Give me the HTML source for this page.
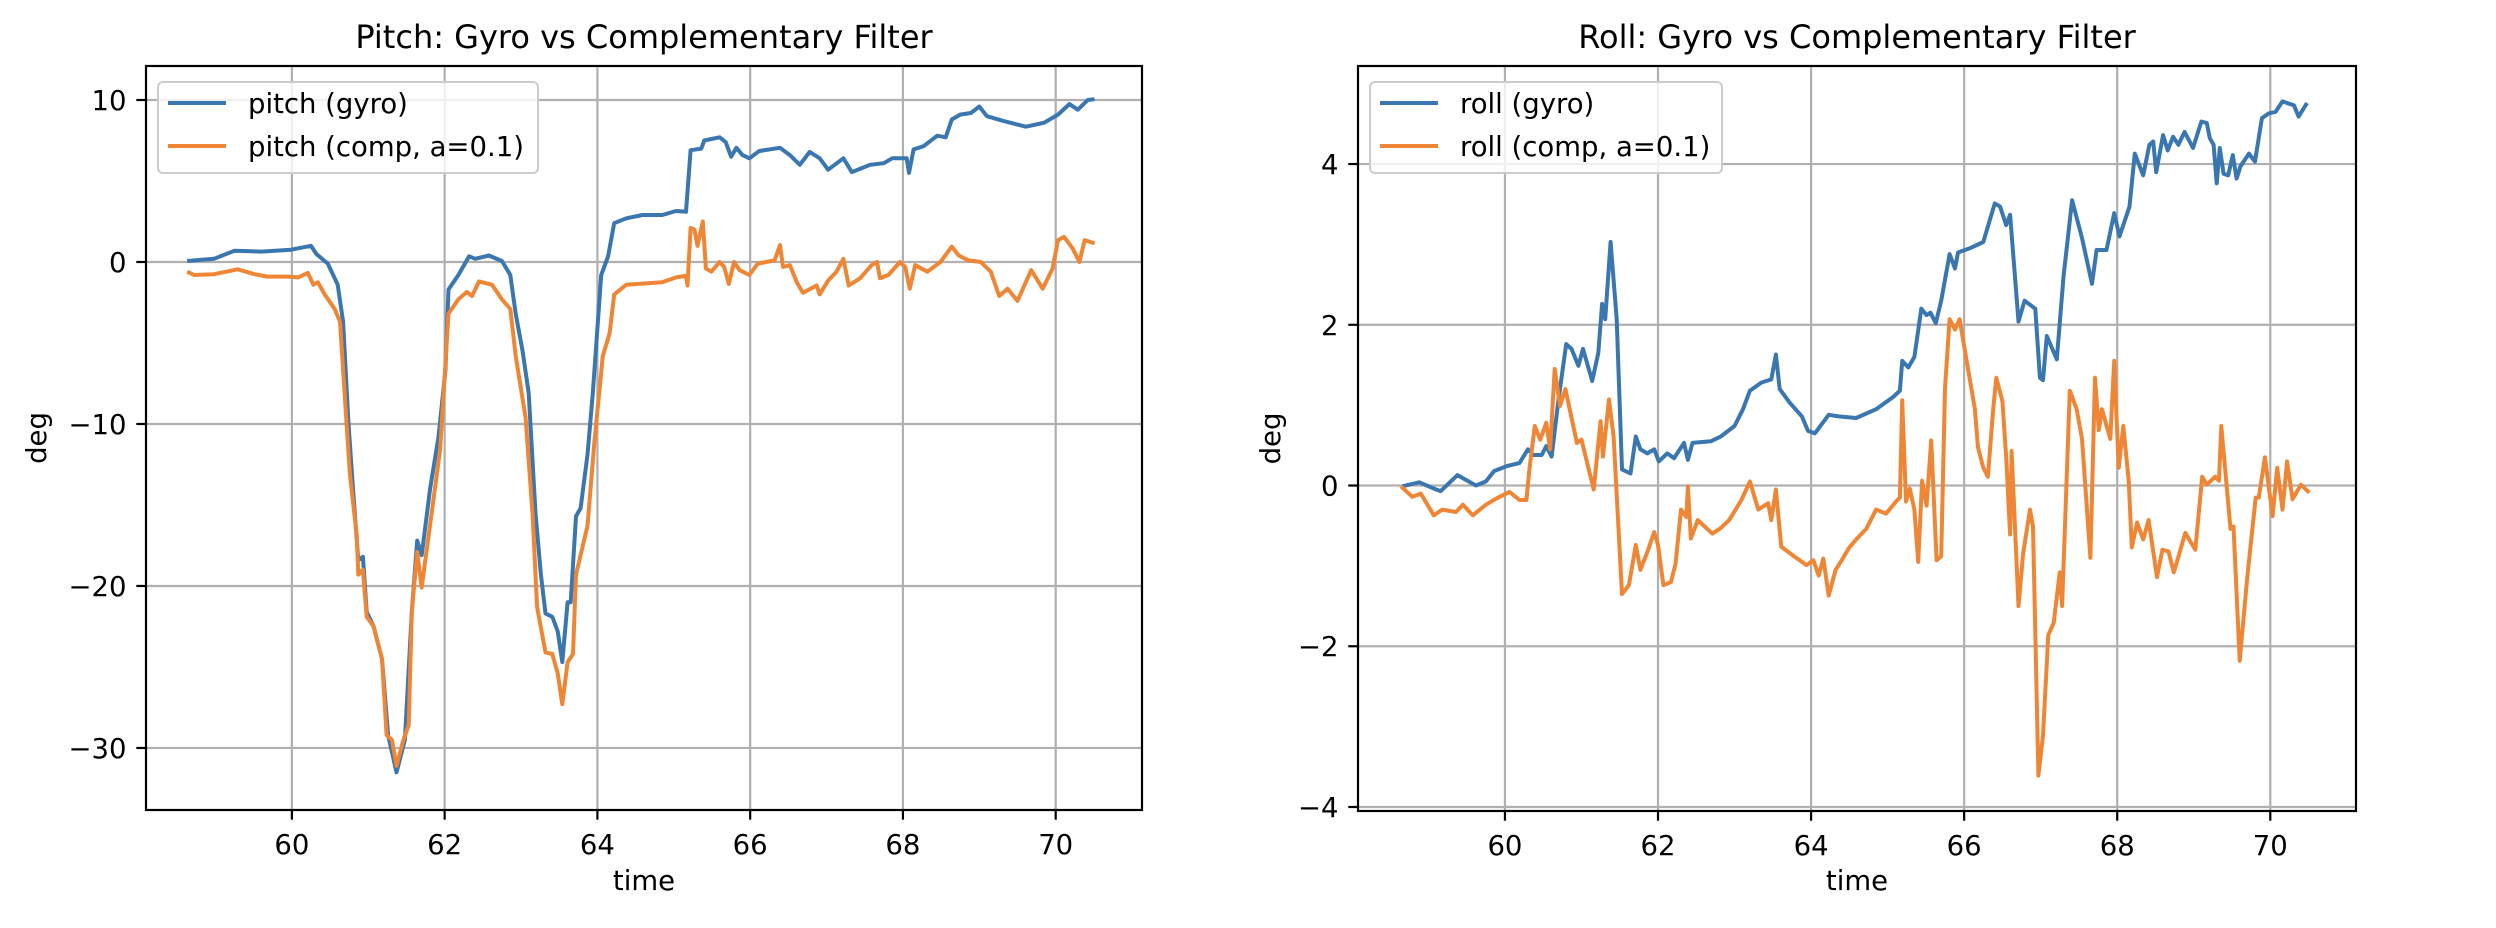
<!DOCTYPE html>
<html><head><meta charset="utf-8"><style>
html,body{margin:0;padding:0;background:#fff;}
svg{display:block;font-family:"DejaVu Sans","Liberation Sans",sans-serif;}
</style></head><body>
<svg id="fig" width="2496" height="928" viewBox="0 0 2496 928"></svg>
<script>
// ---- data ----
const pitchGyroT=[58.63,58.98,59.25,59.6,59.99,60.25,60.32,60.47,60.6,60.67,60.74,60.8,60.87,60.93,60.98,61.07,61.18,61.26,61.37,61.48,61.57,61.64,61.7,61.81,61.92,62.01,62.05,62.18,62.32,62.4,62.58,62.75,62.86,62.93,63.02,63.1,63.19,63.26,63.32,63.41,63.48,63.54,63.61,63.65,63.72,63.78,63.87,63.94,64.05,64.14,64.22,64.38,64.59,64.85,65.03,65.16,65.22,65.36,65.4,65.6,65.68,65.75,65.82,65.9,65.99,66.12,66.39,66.52,66.65,66.78,66.91,67.02,67.22,67.33,67.57,67.75,67.86,68.05,68.08,68.14,68.27,68.45,68.56,68.64,68.75,68.89,69.0,69.1,69.32,69.61,69.85,70.03,70.18,70.29,70.42,70.51];
const pitchGyro=[0.06,0.2,0.7,0.64,0.76,1.0,0.5,-0.1,-1.4,-3.7,-9.9,-14,-18.4,-18.2,-21.6,-22.5,-24.5,-29.2,-31.5,-29.5,-21.6,-17.2,-18.1,-14,-10.8,-6.7,-1.7,-0.8,0.35,0.2,0.4,0.06,-0.8,-3.2,-5.5,-8.1,-15.5,-19.3,-21.7,-21.9,-22.8,-24.7,-21.0,-21.0,-15.7,-15.2,-11.9,-8.1,-0.8,0.35,2.4,2.7,2.9,2.9,3.15,3.1,6.9,7.0,7.5,7.7,7.4,6.5,7.05,6.6,6.4,6.85,7.05,6.6,6.0,6.8,6.4,5.7,6.4,5.55,6.0,6.1,6.4,6.4,5.5,6.95,7.15,7.8,7.7,8.8,9.1,9.2,9.6,9.0,8.7,8.35,8.6,9.1,9.75,9.4,10.0,10.05];
const pitchCompT=[58.63,58.72,58.98,59.29,59.51,59.68,59.95,60.08,60.21,60.28,60.34,60.43,60.56,60.63,60.69,60.76,60.85,60.87,60.93,60.98,61.07,61.18,61.24,61.31,61.37,61.46,61.53,61.57,61.64,61.7,61.79,61.94,62.05,62.18,62.29,62.36,62.45,62.62,62.75,62.86,62.93,63.06,63.15,63.21,63.32,63.41,63.48,63.54,63.61,63.68,63.72,63.87,63.96,64.07,64.16,64.22,64.38,64.85,65.03,65.16,65.18,65.22,65.27,65.31,65.38,65.42,65.49,65.6,65.66,65.72,65.79,65.86,65.99,66.1,66.32,66.39,66.43,66.52,66.61,66.69,66.87,66.91,67.02,67.13,67.22,67.29,67.44,67.59,67.66,67.7,67.81,67.96,68.03,68.09,68.16,68.32,68.49,68.64,68.73,68.86,69.02,69.15,69.26,69.37,69.5,69.68,69.83,69.96,70.03,70.11,70.22,70.31,70.38,70.51];
const pitchComp=[-0.6,-0.8,-0.75,-0.45,-0.75,-0.9,-0.9,-0.95,-0.67,-1.4,-1.25,-2.0,-2.9,-3.7,-8.1,-13.1,-16.9,-19.3,-19.0,-21.9,-22.5,-24.5,-29.2,-29.5,-31.1,-29.5,-28.6,-21.6,-17.9,-20.1,-16.9,-11.6,-3.2,-2.3,-1.85,-2.1,-1.2,-1.4,-2.3,-2.9,-5.8,-9.6,-15.5,-21.3,-24.1,-24.2,-25.4,-27.3,-24.7,-24.2,-19.3,-16.3,-11.1,-5.8,-4.4,-2.0,-1.4,-1.25,-0.95,-0.85,-1.45,2.1,2.0,1.0,2.5,-0.4,-0.6,0.0,-0.3,-1.35,0.0,-0.5,-0.8,-0.1,0.1,1.05,-0.3,-0.2,-1.25,-1.9,-1.45,-2.0,-1.15,-0.6,0.2,-1.45,-1.0,-0.2,0.0,-1.0,-0.8,0.0,-0.3,-1.65,-0.2,-0.6,0.0,0.95,0.4,0.1,0.0,-0.6,-2.1,-1.65,-2.4,-0.5,-1.65,-0.4,1.35,1.55,0.85,0.0,1.35,1.15];
const rollGyroT=[58.66,58.88,59.1,59.16,59.38,59.62,59.75,59.86,60.02,60.19,60.3,60.37,60.48,60.54,60.61,60.7,60.8,60.87,60.96,61.02,61.14,61.22,61.27,61.31,61.38,61.46,61.53,61.64,61.71,61.77,61.86,61.95,62.01,62.12,62.21,62.34,62.39,62.45,62.69,62.82,63.0,63.11,63.2,63.35,63.48,63.54,63.59,63.72,63.88,63.96,64.05,64.23,64.36,64.59,64.85,65.07,65.16,65.19,65.27,65.35,65.44,65.51,65.56,65.63,65.7,65.81,65.88,65.92,66.07,66.25,66.34,66.4,66.47,66.55,66.6,66.71,66.79,66.93,66.99,67.03,67.08,67.21,67.3,67.41,67.54,67.67,67.73,67.86,67.96,68.03,68.16,68.23,68.34,68.42,68.47,68.51,68.6,68.66,68.73,68.8,68.88,68.99,69.1,69.17,69.21,69.26,69.3,69.34,69.39,69.45,69.51,69.56,69.61,69.72,69.8,69.89,69.98,70.07,70.16,70.31,70.37,70.48];
const rollGyro=[-0.01,0.04,-0.05,-0.07,0.13,0.0,0.05,0.18,0.24,0.28,0.45,0.38,0.38,0.49,0.36,1.07,1.76,1.7,1.49,1.7,1.3,1.65,2.26,2.07,3.03,2.07,0.2,0.15,0.61,0.45,0.4,0.45,0.3,0.4,0.34,0.53,0.32,0.53,0.55,0.61,0.74,0.95,1.18,1.28,1.32,1.63,1.2,1.03,0.86,0.68,0.65,0.88,0.86,0.84,0.95,1.1,1.18,1.55,1.47,1.6,2.2,2.12,2.15,2.02,2.3,2.88,2.7,2.9,2.95,3.03,3.32,3.51,3.47,3.24,3.37,2.04,2.3,2.2,1.34,1.31,1.86,1.57,2.61,3.55,3.08,2.51,2.93,2.93,3.39,3.1,3.47,4.13,3.86,4.24,4.28,3.9,4.36,4.17,4.34,4.24,4.4,4.2,4.53,4.51,4.32,4.24,3.76,4.2,3.88,3.86,4.11,3.82,3.97,4.13,4.03,4.57,4.63,4.65,4.78,4.73,4.59,4.76];
const rollCompT=[58.64,58.79,58.9,59.07,59.18,59.36,59.45,59.58,59.75,59.89,60.06,60.19,60.28,60.32,60.39,60.46,60.54,60.59,60.65,60.72,60.79,60.94,61.0,61.16,61.25,61.28,61.36,61.42,61.53,61.62,61.71,61.77,61.86,61.95,62.0,62.07,62.17,62.23,62.3,62.37,62.39,62.43,62.52,62.71,62.82,62.93,63.09,63.2,63.31,63.44,63.48,63.54,63.61,63.79,63.94,64.03,64.1,64.16,64.23,64.32,64.4,64.5,64.59,64.72,64.85,64.98,65.11,65.16,65.19,65.24,65.29,65.35,65.4,65.45,65.51,65.57,65.64,65.7,65.75,65.81,65.88,65.94,66.03,66.14,66.18,66.25,66.31,66.38,66.42,66.5,66.55,66.6,66.62,66.71,66.77,66.86,66.9,66.97,67.03,67.1,67.17,67.25,67.28,67.38,67.47,67.54,67.65,67.71,67.76,67.8,67.91,67.96,68.02,68.08,68.15,68.19,68.26,68.34,68.41,68.52,68.59,68.67,68.74,68.78,68.89,69.02,69.11,69.17,69.28,69.33,69.36,69.48,69.52,69.6,69.7,69.81,69.85,69.93,70.03,70.09,70.16,70.22,70.29,70.4,70.51];
const rollComp=[-0.01,-0.14,-0.1,-0.37,-0.3,-0.33,-0.24,-0.37,-0.24,-0.16,-0.08,-0.18,-0.18,0.2,0.74,0.57,0.78,0.45,1.45,0.99,1.2,0.53,0.57,-0.05,0.8,0.36,1.07,0.61,-1.35,-1.24,-0.74,-1.05,-0.83,-0.58,-0.74,-1.24,-1.2,-0.97,-0.3,-0.39,-0.01,-0.66,-0.43,-0.6,-0.53,-0.43,-0.18,0.05,-0.3,-0.22,-0.43,-0.05,-0.76,-0.89,-0.99,-0.93,-1.12,-0.91,-1.37,-1.05,-0.93,-0.77,-0.67,-0.54,-0.3,-0.35,-0.2,-0.15,1.06,-0.2,-0.04,-0.3,-0.95,0.06,-0.25,0.56,-0.93,-0.88,1.21,2.07,1.94,2.07,1.57,0.95,0.48,0.22,0.11,0.95,1.34,1.05,0.35,-0.61,0.43,-1.5,-0.85,-0.3,-0.51,-3.61,-3.11,-1.86,-1.71,-1.08,-1.5,1.18,0.95,0.58,-0.9,1.34,0.69,0.95,0.58,1.55,0.22,0.74,0.06,-0.77,-0.46,-0.67,-0.43,-1.14,-0.8,-0.82,-1.08,-0.95,-0.59,-0.8,0.11,0.01,0.11,0.06,0.74,-0.54,-0.51,-2.18,-1.14,-0.15,-0.15,0.35,-0.38,0.22,-0.3,0.3,-0.17,0.01,-0.09];
const xTicks=[60,62,64,66,68,70];
const pitchYTicks=[10,0,-10,-20,-30];
const rollYTicks=[4,2,0,-2,-4];

const NS="http://www.w3.org/2000/svg";
const svg=document.getElementById('fig');
function mk(tag,attrs,parent){const e=document.createElementNS(NS,tag);for(const k in attrs)e.setAttribute(k,attrs[k]);(parent||svg).appendChild(e);return e;}
function fmt(v){return v<0?'\u2212'+Math.abs(v):String(v);}

function drawPanel(cfg){
  const {L,R,T,B,xmin,xmax,ymin,ymax}=cfg;
  const sx=t=>L+(t-xmin)/(xmax-xmin)*(R-L);
  const sy=v=>B-(v-ymin)/(ymax-ymin)*(B-T);
  const g=mk('g',{});
  
  
  // grid
  xTicks.forEach(t=>{const l=mk('line',{x1:sx(t),x2:sx(t),y1:T,y2:B,stroke:'#b0b0b0','stroke-width':2.2},g);
    });
  cfg.yTicks.forEach(v=>{const l=mk('line',{x1:L,x2:R,y1:sy(v),y2:sy(v),stroke:'#b0b0b0','stroke-width':2.2},g);
    });
  // series
  const clip=mk('clipPath',{id:'clip-'+cfg.name},g);mk('rect',{x:L,y:T,width:R-L,height:B-T},clip);
  cfg.series.forEach(s=>{
    const d=s.t.map((t,i)=>(i?'L':'M')+sx(t).toFixed(1)+' '+sy(s.v[i]).toFixed(1)).join(' ');
    const p=mk('path',{d:d,fill:'none',stroke:s.color,'stroke-width':4,'stroke-linejoin':'round','clip-path':'url(#clip-'+cfg.name+')'},g);
    
    
  });
  // spines
  const fr=mk('rect',{x:L,y:T,width:R-L,height:B-T,fill:'none',stroke:'#000','stroke-width':2.2},g);
  
  // x ticks
  xTicks.forEach(t=>{
    mk('line',{x1:sx(t),x2:sx(t),y1:B,y2:B+9.7,stroke:'#000','stroke-width':2.2},g);
    const tx=mk('text',{x:sx(t),y:B+44,'text-anchor':'middle','font-size':27.5,fill:'#000'},g);
    tx.textContent=fmt(t);
    
  });
  cfg.yTicks.forEach(v=>{
    mk('line',{x1:L-9.7,x2:L,y1:sy(v),y2:sy(v),stroke:'#000','stroke-width':2.2},g);
    const tx=mk('text',{x:L-19.5,y:sy(v)+10,'text-anchor':'end','font-size':27.5,fill:'#000'},g);
    tx.textContent=fmt(v);
    
  });
  const xl=mk('text',{x:(L+R)/2,y:890,'text-anchor':'middle','font-size':27.5,fill:'#000'},g);
  xl.textContent='time';
  const yl=mk('text',{x:0,y:0,transform:'translate('+(cfg.ylx)+','+((T+B)/2)+') rotate(-90)','text-anchor':'middle','font-size':27.5,fill:'#000'},g);
  yl.textContent='deg';
  const ti=mk('text',{x:(L+R)/2,y:48,'text-anchor':'middle','font-size':32,fill:'#000'},g);
  ti.textContent=cfg.title;
  // legend
  const lg=mk('g',{},g);
  mk('rect',{x:L+12,y:T+16,width:cfg.legW,height:91,rx:5,fill:'#fff','fill-opacity':0.8,stroke:'#cccccc','stroke-width':2},lg);
  cfg.series.forEach((s,i)=>{
    const yy=T+37+i*43;
    mk('line',{x1:L+22,x2:L+80,y1:yy,y2:yy,stroke:s.color,'stroke-width':4},lg);
    const tx=mk('text',{x:L+102,y:yy+10,'font-size':27.5,fill:'#000'},lg);
    tx.textContent=s.label;
  });
}
drawPanel({name:'pitch',L:146,R:1142,T:66,B:810,xmin:58.09,xmax:71.13,ymin:-33.83,ymax:12.1,yTicks:pitchYTicks,ylx:46,legW:380,
  title:'Pitch: Gyro vs Complementary Filter',
  series:[{name:'pitch-gyro',t:pitchGyroT,v:pitchGyro,color:'#3a76af',label:'pitch (gyro)'},
          {name:'pitch-comp',t:pitchCompT,v:pitchComp,color:'#ef8636',label:'pitch (comp, a=0.1)'}]});
drawPanel({name:'roll',L:1358,R:2356,T:66,B:811,xmin:58.08,xmax:71.12,ymin:-4.05,ymax:5.22,yTicks:rollYTicks,ylx:1280,legW:352,
  title:'Roll: Gyro vs Complementary Filter',
  series:[{name:'roll-gyro',t:rollGyroT,v:rollGyro,color:'#3a76af',label:'roll (gyro)'},
          {name:'roll-comp',t:rollCompT,v:rollComp,color:'#ef8636',label:'roll (comp, a=0.1)'}]});
</script>
</body></html>
